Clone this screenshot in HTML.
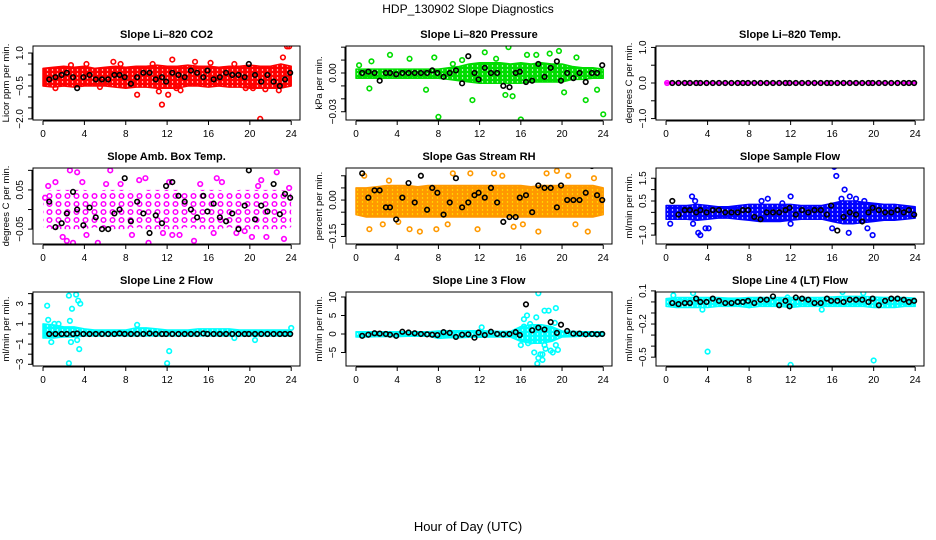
<!DOCTYPE html>
<html><head><meta charset="utf-8"><title>HDP_130902 Slope Diagnostics</title>
<style>
body{margin:0;background:#fff;}
svg{display:block;font-family:"Liberation Sans",sans-serif;}
</style></head>
<body>
<svg id="chart" width="936" height="540" viewBox="0 0 936 540">
<defs id="defs"></defs>
<text x="468" y="13" text-anchor="middle" font-size="12">HDP_130902  Slope Diagnostics</text>
<text x="468" y="531" text-anchor="middle" font-size="13">Hour of Day (UTC)</text>
</svg>
<script>
// shared times of black (hourly-mean) points
const blackTimes = [0.6,1.2,1.8,2.3,2.9,3.3,3.9,4.5,5.1,5.7,6.3,6.9,7.4,7.9,8.5,9.1,9.7,10.3,10.9,11.5,11.9,12.5,13.1,13.7,14.3,14.9,15.5,15.9,16.5,17.1,17.7,18.3,18.9,19.5,19.9,20.5,21.1,21.7,22.3,22.9,23.4,23.9];
const bandHours = [0,1,2,3,4,5,6,7,8,9,10,11,12,13,14,15,16,17,18,19,20,21,22,23,24];
const xTicks = [0,4,8,12,16,20,24];

// Panel 1: Li-820 CO2
const co2BandHi = [0.3,0.35,0.4,0.35,0.4,0.3,0.35,0.4,0.35,0.4,0.4,0.45,0.4,0.4,0.45,0.4,0.4,0.35,0.4,0.4,0.45,0.4,0.4,0.5,0.4];
const co2BandLo = [-0.5,-0.55,-0.5,-0.55,-0.5,-0.5,-0.5,-0.55,-0.6,-0.55,-0.55,-0.6,-0.6,-0.6,-0.5,-0.5,-0.55,-0.5,-0.55,-0.55,-0.6,-0.6,-0.6,-0.6,-0.5];
const co2OutX = [21,11.5,9.1,12.1,23.6,23.8,23.2,12.9,1.2,14.7,12.5,6.8,22.8,19.6,7.5,10.6,13.3,18.5,2.7,4.2,16.2,21.5,11.2,20.3,5.5];
const co2OutY = [-2.0,-1.35,-0.9,-0.9,1.3,1.3,0.8,-0.6,-0.6,0.6,0.7,0.6,-0.7,-0.6,0.5,0.5,-0.7,0.5,0.45,0.5,0.55,-0.65,-0.75,-0.6,-0.55];
const co2Black = [-0.2,-0.1,0.0,0.1,-0.1,-0.6,-0.1,0.0,-0.2,-0.2,-0.2,0.0,0.0,-0.1,-0.4,-0.1,0.1,0.1,-0.2,-0.1,-0.3,0.1,0.0,-0.1,0.2,0.1,-0.1,0.2,-0.2,-0.1,0.1,0.0,0.0,-0.1,0.5,0.0,-0.3,0.0,-0.3,-0.5,-0.2,0.1];

// Panel 2: Li-820 Pressure
const presBandHi = [0.003,0.003,0.003,0.003,0.003,0.003,0.003,0.003,0.003,0.004,0.005,0.007,0.008,0.008,0.008,0.007,0.008,0.007,0.008,0.007,0.007,0.005,0.004,0.004,0.003];
const presBandLo = [-0.004,-0.004,-0.004,-0.004,-0.004,-0.004,-0.004,-0.004,-0.004,-0.005,-0.006,-0.007,-0.008,-0.008,-0.008,-0.008,-0.008,-0.007,-0.007,-0.007,-0.007,-0.005,-0.005,-0.004,-0.004];
const presOutX = [8,16,24,14.8,12.5,19.7,3.3,22.3,11.3,6.8,1.3,0.3,1.5,17.5,20.2,23.4,7.6,5.2,10.3,13.6,16.6,18.8,14.5,15.2,21.4,9.4];
const presOutY = [-0.034,-0.036,-0.032,0.02,0.016,0.017,0.014,-0.021,-0.021,-0.013,-0.012,0.006,0.009,0.014,-0.015,-0.013,0.012,0.011,0.01,0.011,0.014,0.015,-0.017,-0.018,0.012,0.007];
const presBlack = [0.0,0.001,0.0,-0.006,0.0,0.0,-0.001,0.0,0.0,0.0,0.0,0.0,0.002,0.0,-0.003,0.0,0.002,-0.008,0.013,0.0,-0.005,0.004,0.0,0.0,-0.01,-0.011,0.0,0.001,-0.007,-0.006,0.007,-0.003,0.004,0.009,-0.006,0.0,-0.004,0.0,-0.007,0.0,0.0,0.006];

// Panel 3: Li-820 Temp.
const tempBandHi = [0.015,0.015,0.015,0.015,0.015,0.015,0.015,0.015,0.015,0.015,0.015,0.015,0.015,0.015,0.015,0.015,0.015,0.015,0.015,0.015,0.015,0.015,0.015,0.015,0.015];
const tempBandLo = [-0.015,-0.015,-0.015,-0.015,-0.015,-0.015,-0.015,-0.015,-0.015,-0.015,-0.015,-0.015,-0.015,-0.015,-0.015,-0.015,-0.015,-0.015,-0.015,-0.015,-0.015,-0.015,-0.015,-0.015,-0.015];
const tempOutX = [0.1];
const tempOutY = [0.0];
const tempBlack = [0,0,0,0,0,0,0,0,0,0,0,0,0,0,0,0,0,0,0,0,0,0,0,0,0,0,0,0,0,0,0,0,0,0,0,0,0,0,0,0,0,0];

// Panel 4: Amb. Box Temp.
const ambBandHi = [0.045,0.05,0.05,0.05,0.05,0.045,0.05,0.05,0.05,0.045,0.05,0.05,0.05,0.05,0.045,0.05,0.05,0.05,0.045,0.05,0.05,0.05,0.05,0.05,0.045];
const ambBandLo = [-0.045,-0.05,-0.05,-0.05,-0.05,-0.045,-0.05,-0.05,-0.05,-0.045,-0.05,-0.05,-0.05,-0.05,-0.045,-0.05,-0.05,-0.05,-0.045,-0.05,-0.05,-0.05,-0.05,-0.05,-0.045];
const ambOutX = [2.6,3.3,6.5,0.5,1.2,2.3,10.2,5.3,9.9,20.2,21.6,22.6,1.9,6.1,12.5,14.6,16.8,23.3,8.6,2.9,3.8,11.6,15.2,19.5,7.5,13.2,17.3,21.1,4.2,0.2,9.3,18.7,23.8,12.2,16.5,20.8];
const ambOutY = [0.1,0.095,0.1,0.06,0.07,-0.08,-0.085,-0.085,0.08,-0.07,-0.07,0.095,-0.07,0.065,-0.065,-0.08,0.08,-0.075,-0.065,-0.085,0.07,-0.06,0.065,-0.055,0.065,-0.065,0.07,0.075,-0.065,0.03,0.075,-0.06,0.055,0.07,-0.06,0.06];
const ambBlack = [0.02,-0.045,-0.035,-0.01,0.045,0.0,-0.04,0.005,-0.02,-0.05,-0.05,-0.01,0.0,0.08,-0.03,0.02,-0.01,-0.06,-0.015,-0.035,0.06,0.07,0.035,0.02,0.0,-0.02,0.035,-0.005,0.015,-0.02,-0.03,-0.01,-0.05,0.01,0.1,-0.025,0.01,-0.005,0.065,-0.012,0.04,0.03];

// Panel 5: Gas Stream RH
const rhBandHi = [0.05,0.05,0.055,0.06,0.06,0.06,0.055,0.06,0.06,0.06,0.06,0.06,0.06,0.06,0.06,0.06,0.06,0.055,0.06,0.06,0.06,0.06,0.06,0.06,0.05];
const rhBandLo = [-0.06,-0.07,-0.07,-0.07,-0.07,-0.07,-0.07,-0.07,-0.07,-0.07,-0.07,-0.07,-0.07,-0.07,-0.07,-0.07,-0.07,-0.07,-0.07,-0.07,-0.07,-0.07,-0.07,-0.07,-0.06];
const rhOutX = [16.5,6.5,17.7,0.8,1.3,2.6,4.1,7.8,11.8,15.3,19.5,22.5,6.2,9.4,13.4,20.6,23.1,5.2,11.1,14.2,18.5,21.3,3.2,8.9,16.2];
const rhOutY = [-0.2,0.15,-0.13,0.1,-0.12,-0.1,-0.09,-0.12,-0.12,-0.11,0.12,-0.13,-0.13,0.11,0.11,0.1,0.09,-0.12,0.11,0.1,0.11,-0.1,0.08,-0.1,-0.1];
const rhBlack = [0.11,0.01,0.04,0.04,-0.03,-0.03,-0.08,0.01,0.07,-0.01,0.1,-0.04,0.05,0.03,-0.06,-0.01,0.09,-0.03,-0.01,0.02,0.03,0.01,0.05,-0.01,-0.09,-0.07,-0.07,0.01,0.02,-0.05,0.06,0.05,0.05,-0.03,0.06,0.0,0.0,0.0,0.03,0.14,0.02,0.0];

// Panel 6: Sample Flow
const sfBandHi = [0.3,0.3,0.3,0.35,0.3,0.25,0.25,0.3,0.35,0.35,0.35,0.35,0.35,0.3,0.3,0.3,0.4,0.5,0.5,0.45,0.4,0.35,0.35,0.3,0.25];
const sfBandLo = [-0.3,-0.3,-0.3,-0.35,-0.3,-0.25,-0.25,-0.3,-0.35,-0.4,-0.4,-0.4,-0.35,-0.3,-0.3,-0.3,-0.4,-0.5,-0.5,-0.45,-0.4,-0.35,-0.35,-0.3,-0.25];
const sfOutX = [16.2,16.4,17.2,17.4,3.3,3.1,19.9,2.5,9.8,12,9.2,2.8,16,17.6,19.4,0.4,4.1,3.8,12,2.6,17.7,18.3,19.1,11.2,16.9];
const sfOutY = [2.0,1.6,1.0,-1.6,-1.0,-0.9,-1.0,0.7,0.6,0.7,0.5,0.5,-0.7,-0.9,-0.7,-0.5,-0.7,-0.7,-0.5,-0.5,0.7,0.6,0.5,0.4,0.6];
const sfBlack = [0.5,-0.1,0.1,0.1,0.0,0.1,0.0,0.1,0.1,0.0,0.0,0.0,0.1,0.1,-0.2,-0.3,0.0,0.0,0.0,0.1,0.2,-0.1,0.1,0.0,0.1,0.1,-0.1,0.3,-0.8,-0.2,0.0,-0.1,-0.4,0.0,0.2,0.1,0.0,0.0,0.1,0.0,0.1,-0.1];

// Panel 7: Line 2 Flow
const l2BandHi = [1.0,0.9,0.7,0.7,0.5,0.4,0.4,0.4,0.4,0.6,0.6,0.5,0.4,0.4,0.4,0.5,0.5,0.5,0.5,0.4,0.4,0.4,0.4,0.4,0.4];
const l2BandLo = [-0.4,-0.4,-0.3,-0.3,-0.2,-0.2,-0.2,-0.2,-0.2,-0.2,-0.2,-0.2,-0.2,-0.2,-0.2,-0.2,-0.2,-0.2,-0.2,-0.2,-0.2,-0.2,-0.2,-0.2,-0.2];
const l2OutX = [0.4,2.5,3.2,3.4,3.6,2.8,2.6,0.5,0.8,2.7,3.5,2.5,12,12.2,3.3,24,20.5,1.1,1.5,9.1,18.5];
const l2OutY = [2.8,3.8,3.9,3.3,3.0,2.5,1.3,1.4,-0.8,-0.8,-1.5,-2.9,-2.9,-1.7,-0.6,0.6,-0.6,1.0,1.0,0.9,-0.4];
const l2Black = [0,0,0,0,0,0.05,0,0,0,0,0,0,0.05,0,0,0,0,0.05,0,0,0,0,0,0,0,0,0.05,0,0,0,0,0,0,0,0,0,0,0,0,0,0,0];

// Panel 8: Line 3 Flow
const l3BandHi = [0.6,0.6,0.6,0.6,0.6,0.6,0.6,0.6,0.8,0.9,0.9,0.9,0.9,0.8,0.7,0.7,2.0,2.5,2.5,2.0,0.8,0.7,0.6,0.6,0.6];
const l3BandLo = [-0.8,-0.8,-0.7,-0.7,-0.7,-0.6,-0.6,-0.6,-1.2,-1.0,-1.0,-0.9,-0.9,-0.8,-0.8,-0.8,-2.0,-2.5,-2.5,-2.0,-0.8,-0.7,-0.6,-0.6,-0.6];
const l3OutX = [17.7,19.4,18.3,18.7,16.6,16.3,16.9,17.5,17.3,17.9,17.6,18.1,18.3,18.4,18.9,19.1,19.4,19.6,16,16.3,17,18.1,17.7,16.7,19.3,12.2];
const l3OutY = [11,7,6.3,6.3,5,4,2.7,4.5,-5,-5.5,-8,-7,-3,-4,-4.5,-5,-3,-4.3,-3,2,-2,-5.5,-6.5,-2.5,3,1.8];
const l3Black = [-0.5,-0.2,0.2,0.1,0,-0.2,-0.5,0.6,0.4,0.2,0,-0.1,-0.2,-0.3,0.5,0.3,-0.8,-0.2,-0.1,-1,0.4,-0.3,0.6,0,-0.1,0,0.5,-0.3,8,1,1.7,1.2,3.2,0.3,2.5,0.8,0.1,0.1,-0.1,0,-0.1,0];

// Panel 9: Line 4 (LT) Flow
const l4BandHi = [0.03,0.04,0.04,0.04,0.04,0.04,0.035,0.035,0.04,0.04,0.04,0.04,0.04,0.04,0.04,0.04,0.045,0.05,0.05,0.05,0.045,0.04,0.04,0.04,0.035];
const l4BandLo = [-0.04,-0.05,-0.05,-0.05,-0.05,-0.04,-0.04,-0.04,-0.05,-0.04,-0.04,-0.04,-0.05,-0.04,-0.04,-0.04,-0.04,-0.04,-0.04,-0.04,-0.05,-0.05,-0.05,-0.04,-0.04];
const l4OutX = [4,12,20,0.7,17,2.6,19,15,3.5,8,11.7];
const l4OutY = [-0.45,-0.57,-0.53,0.06,0.09,0.08,0.08,-0.07,-0.07,-0.03,0.04];
const l4Black = [-0.01,-0.02,-0.01,-0.01,0.03,0.0,0.0,0.03,0.01,-0.01,-0.01,0.0,0.0,0.01,-0.01,0.02,0.02,0.05,-0.03,0.01,-0.04,0.04,0.03,0.02,-0.01,-0.01,0.03,0.01,0.01,0.0,0.02,0.02,0.02,0.0,0.03,-0.03,0.01,0.03,0.03,0.02,0.0,0.01];

const panels = [
 {name:'co2',title:'Slope Li\u2013820 CO2',ylab:'Licor ppm per min.',col:0,row:0,ylim:[-2.05,1.32],ticks:[-2,-1.5,-1,-0.5,0,0.5,1],labels:[[1,'1.0'],[-0.5,'\u22120.5'],[-2,'\u22122.0']],color:'#ff0000',dense:true,hi:co2BandHi,lo:co2BandLo,ox:co2OutX,oy:co2OutY,blk:co2Black},
 {name:'pressure',title:'Slope Li\u2013820 Pressure',ylab:'kPa per min.',col:1,row:0,ylim:[-0.0364,0.0209],ticks:[-0.03,-0.02,-0.01,0,0.01,0.02],labels:[[0,'0.00'],[-0.03,'\u22120.03']],color:'#00dd00',dense:true,hi:presBandHi,lo:presBandLo,ox:presOutX,oy:presOutY,blk:presBlack},
 {name:'temp',title:'Slope Li\u2013820 Temp.',ylab:'degrees C per min.',col:2,row:0,ylim:[-1.04,1.04],ticks:[-1,-0.5,0,0.5,1],labels:[[1,'1.0'],[0,'0.0'],[-1,'\u22121.0']],color:'#ff00ff',dense:true,hi:tempBandHi,lo:tempBandLo,ox:tempOutX,oy:tempOutY,blk:tempBlack},
 {name:'amb-box-temp',title:'Slope Amb. Box Temp.',ylab:'degrees C per min.',col:0,row:1,ylim:[-0.088,0.106],ticks:[-0.05,0,0.05,0.1],labels:[[0.05,'0.05'],[-0.05,'\u22120.05']],color:'#ff00ff',dense:false,hi:ambBandHi,lo:ambBandLo,ox:ambOutX,oy:ambOutY,blk:ambBlack},
 {name:'gas-stream-rh',title:'Slope Gas Stream RH',ylab:'percent per min.',col:1,row:1,ylim:[-0.181,0.132],ticks:[-0.15,-0.1,-0.05,0,0.05,0.1],labels:[[0,'0.00'],[-0.15,'\u22120.15']],color:'#ff9900',dense:true,hi:rhBandHi,lo:rhBandLo,ox:rhOutX,oy:rhOutY,blk:rhBlack},
 {name:'sample-flow',title:'Slope Sample Flow',ylab:'ml/min per min.',col:2,row:1,ylim:[-1.39,1.95],ticks:[-1,-0.5,0,0.5,1,1.5],labels:[[1.5,'1.5'],[0.5,'0.5'],[-1,'\u22121.0']],color:'#0000ff',dense:true,hi:sfBandHi,lo:sfBandLo,ox:sfOutX,oy:sfOutY,blk:sfBlack},
 {name:'line2-flow',title:'Slope Line 2 Flow',ylab:'ml/min per min.',col:0,row:2,ylim:[-3.17,4.16],ticks:[-3,-2,-1,0,1,2,3,4],labels:[[3,'3'],[1,'1'],[-1,'\u22121'],[-3,'\u22123']],color:'#00ffff',dense:true,hi:l2BandHi,lo:l2BandLo,ox:l2OutX,oy:l2OutY,blk:l2Black},
 {name:'line3-flow',title:'Slope Line 3 Flow',ylab:'ml/min per min.',col:1,row:2,ylim:[-8.65,11.35],ticks:[-5,0,5,10],labels:[[10,'10'],[5,'5'],[0,'0'],[-5,'\u22125']],color:'#00ffff',dense:true,hi:l3BandHi,lo:l3BandLo,ox:l3OutX,oy:l3OutY,blk:l3Black},
 {name:'line4-flow',title:'Slope Line 4 (LT) Flow',ylab:'ml/min per min.',col:2,row:2,ylim:[-0.58,0.09],ticks:[0.1,0,-0.1,-0.2,-0.3,-0.4,-0.5],labels:[[0.1,'0.1'],[-0.2,'\u22120.2'],[-0.5,'\u22120.5']],color:'#00ffff',dense:true,hi:l4BandHi,lo:l4BandLo,ox:l4OutX,oy:l4OutY,blk:l4Black}
];
const colBox = [[33,300],[346,612],[656,924]];
const rowBox = [[46,120],[168,244],[292,366]];
const XLIM = [-0.97,24.85];
const NS='http://www.w3.org/2000/svg';
const svg=document.getElementById('chart');
const defs=document.getElementById('defs');
function mk(tag,attrs,parent){const e=document.createElementNS(NS,tag);for(const k in attrs)e.setAttribute(k,attrs[k]);(parent||svg).appendChild(e);return e;}

panels.forEach(p=>{
  const [L,R]=colBox[p.col],[T,B]=rowBox[p.row];
  const xs=v=>L+(v-XLIM[0])/(XLIM[1]-XLIM[0])*(R-L);
  const ys=v=>B-(v-p.ylim[0])/(p.ylim[1]-p.ylim[0])*(B-T);
  // texture pattern mimicking overlapping open circles
  const pat=mk('pattern',{id:'pat-'+p.name,width:p.dense?5:9,height:p.dense?4:8,patternUnits:'userSpaceOnUse'},defs);
  if(p.dense){
    mk('rect',{x:0,y:0,width:5,height:4,fill:p.color},pat);
    mk('circle',{cx:2.5,cy:2,r:0.7,fill:p.name==='gas-stream-rh'?'#ffee00':'#fff'},pat);
  } else {
    mk('circle',{cx:4.5,cy:4,r:2.3,fill:'none',stroke:p.color,'stroke-width':1.5},pat);
  }
  const g=mk('g',{});
  
  
  const cp=mk('clipPath',{id:'clip-'+p.name},g);
  mk('rect',{x:L,y:T,width:R-L,height:B-T},cp);
  const t=mk('text',{x:(L+R)/2,y:T-8,'text-anchor':'middle','font-size':'11','font-weight':'bold'},g);
  t.textContent=p.title;
  
  
  const marks=mk('g',{'clip-path':'url(#clip-'+p.name+')'},g);
  
  
  let d='';
  bandHours.forEach((h,i)=>{d+=(i?'L':'M')+xs(h).toFixed(1)+','+ys(p.hi[i]).toFixed(1);});
  for(let i=bandHours.length-1;i>=0;i--)d+='L'+xs(bandHours[i]).toFixed(1)+','+ys(p.lo[i]).toFixed(1);
  d+='Z';
  const band=mk('path',{d:d,fill:'url(#pat-'+p.name+')',stroke:p.dense?p.color:'none','stroke-width':'1.5','stroke-linejoin':'round'},marks);
  
  
  p.ox.forEach((xv,i)=>{
    const c=mk('circle',{cx:xs(xv),cy:ys(p.oy[i]),r:2.3,fill:'none',stroke:p.color,'stroke-width':1.6},marks);
    
    
  });
  const n=Math.min(blackTimes.length,p.blk.length);
  for(let i=0;i<n;i++){
    const c=mk('circle',{cx:xs(blackTimes[i]),cy:ys(p.blk[i]),r:2.3,fill:'none',stroke:'#000','stroke-width':1.6},marks);
    
    
  }
  const box=mk('rect',{x:L,y:T,width:R-L,height:B-T,fill:'none',stroke:'#000','stroke-width':1},g);
  
  
  const xa=mk('g',{},g);
  
  
  mk('line',{x1:xs(0),x2:xs(24),y1:B+1,y2:B+1,stroke:'#000'},xa);
  xTicks.forEach(v=>{
    mk('line',{x1:xs(v),x2:xs(v),y1:B+1,y2:B+5,stroke:'#000'},xa);
    const tl=mk('text',{x:xs(v),y:B+17,'text-anchor':'middle','font-size':'10'},xa);
    tl.textContent=v;
    
    
  });
  const ya=mk('g',{},g);
  
  
  p.ticks.forEach(v=>{mk('line',{x1:L-5,x2:L,y1:ys(v),y2:ys(v),stroke:'#000'},ya);});
  mk('line',{x1:L-1,x2:L-1,y1:ys(Math.min(...p.ticks)),y2:ys(Math.max(...p.ticks)),stroke:'#000'},ya);
  p.labels.forEach(([v,s])=>{
    const tx=L-10,ty=ys(v);
    const tl=mk('text',{x:tx,y:ty,'text-anchor':'middle','font-size':'10',transform:'rotate(-90 '+tx+' '+ty+')'},ya);
    tl.textContent=s;
    
    
  });
  const yx=L-24,yy=(T+B)/2;
  const yl=mk('text',{x:yx,y:yy,'text-anchor':'middle','font-size':'9.5',transform:'rotate(-90 '+yx+' '+yy+')'},g);
  yl.textContent=p.ylab;
  
  
});
</script>
</body></html>
